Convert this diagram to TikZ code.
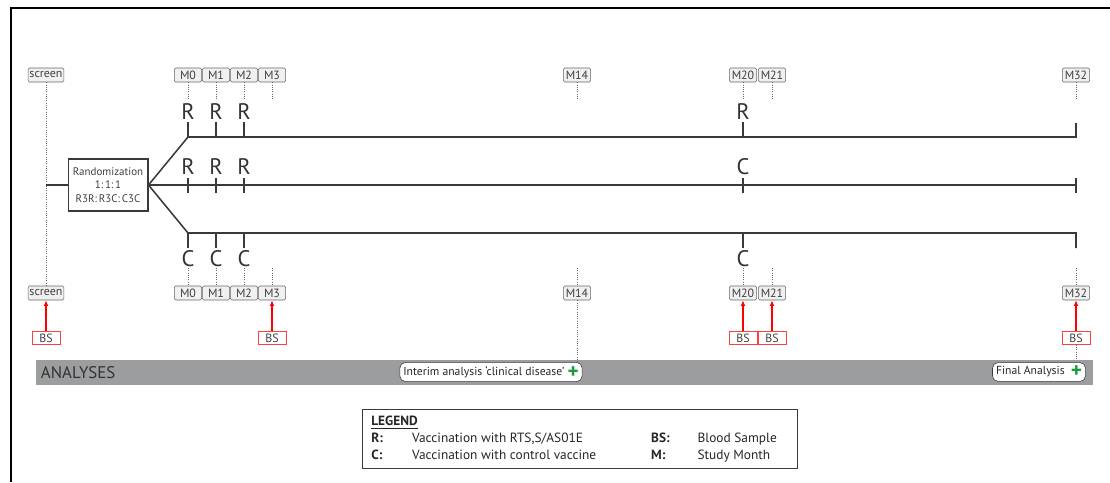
\documentclass[tikz,border=0pt]{standalone}
\usepackage{fontspec}
\setmainfont{PT Sans}
\usepackage{xcolor}
\usetikzlibrary{arrows.meta}
\definecolor{armgray}{HTML}{3A3A3A}
\definecolor{bargray}{HTML}{9C9D9E}
\definecolor{plusgreen}{HTML}{1E9A3C}
\tikzset{
  arm/.style={line width=1.1pt, armgray},
  stub/.style={densely dotted, gray!80!black, line width=0.6pt},
  monthbox/.style={draw=gray!80!black, fill=gray!12, rounded corners=1pt, minimum width=0.68cm,
    minimum height=0.35cm, inner sep=1pt, font=\fontsize{8.5}{9}\selectfont, text=black!75},
  bsbox/.style={draw=red!75, fill=white, minimum width=0.7cm, minimum height=0.33cm, inner sep=1pt,
    font=\fontsize{8.5}{9}\selectfont, text=black!75},
  dose/.style={font=\fontsize{16}{16}\selectfont, text=black!80, inner sep=0pt},
  bsarrow/.style={-{Latex[length=4pt,width=3.5pt]}, red, line width=0.8pt},
  anbox/.style={draw=armgray, fill=white, rounded corners=4pt, inner sep=2.5pt, minimum height=0.42cm,
    font=\fontsize{8.3}{9}\selectfont, text=black!85}
}
\newcommand{\greenplus}{\raisebox{-2.2pt}{\textcolor{plusgreen}{\fontsize{15}{15}\selectfont\bfseries +}}}
\begin{document}
\begin{tikzpicture}[x=0.025cm, y=-0.025cm]
\useasboundingbox (0,0) rectangle (1110,482);
% frame
\draw[line width=1.4pt] (1110,8) -- (11,8) -- (11,482);

% study months, top and bottom rows
\node[monthbox, minimum width=0pt] (scrT) at (46,75) {screen};
\node[monthbox, minimum width=0pt] (scrB) at (46,293) {screen};
\draw[stub] (scrT.south) -- (scrB.north);
\foreach \n/\x in {0/188,1/216,2/244,3/272,14/577,20/743,21/772,32/1076} {
  \node[monthbox] (mT\n) at (\x,75) {M\n};
  \node[monthbox] (mB\n) at (\x,293) {M\n};
  \coordinate (sT\n) at (\x,100);
  \coordinate (sB\n) at (\x,268);
  \draw[stub] (mT\n.south) -- (sT\n);
  \draw[stub] (sB\n) -- (mB\n.north);
}

% randomization and the three arms
\node[draw=armgray, line width=0.9pt, minimum width=1.925cm, minimum height=1.3cm, align=center,
  font=\fontsize{7.8}{9.5}\selectfont, text=black!75] (rand) at (108,185) {Randomization\\1:\,1:\,1\\R3R:\,R3C:\,C3C};
\draw[arm] (scrT.south |- rand.west) -- (rand.west);
\coordinate (topS) at (188,137);
\coordinate (topE) at (1076,137);
\coordinate (topEnd) at (1076,123);
\coordinate (midE) at (1076,185);
\coordinate (botS) at (188,233);
\coordinate (botE) at (1076,233);
\coordinate (botEnd) at (1076,248);
\draw[arm] (rand.east) -- (topS) -- (topE) -- (topEnd);
\draw[arm] (rand.east) -- (midE);
\draw[arm] (1076,178) -- (1076,193);
\draw[arm] (rand.east) -- (botS) -- (botE) -- (botEnd);

% doses
\foreach \i/\x/\a/\b/\c in {1/188/R/R/C,2/216/R/R/C,3/244/R/R/C,4/743/R/C/C} {
  \node[dose] (dT\i) at (\x,112) {\a};
  \node[dose] (dM\i) at (\x,167) {\b};
  \node[dose] (dB\i) at (\x,259) {\c};
  \draw[arm] (\x,122) -- (\x,137);
  \draw[arm] (\x,178) -- (\x,193);
  \draw[arm] (\x,233) -- (\x,248);
}

% blood samples
\foreach \n/\x in {scrB/46,mB3/272,mB20/743,mB21/772,mB32/1076} {
  \node[bsbox] (bs\n) at (\x,338) {BS};
  \draw[bsarrow] (bs\n.north) -- (\n.south);
}

% analyses
\node[fill=bargray, minimum width=26.4cm, minimum height=0.625cm, inner sep=0pt, anchor=north west] (bar) at (36,360) {};
\node[anchor=west, font=\fontsize{12}{12}\selectfont, text=black!80] (antext) at (36,373) {ANALYSES};
\node[anbox] (interim) at (491,372) {Interim analysis `clinical disease'~\greenplus};
\node[anbox] (final) at (1039,372) {Final Analysis~~\greenplus};
\draw[stub] (mB14.south) -- (mB14.south |- interim.north);
\draw[stub] (bsmB32.south) -- (bsmB32.south |- bar.north);

% legend
\node[draw=armgray, line width=0.9pt, anchor=north west, inner sep=0pt, minimum width=10.875cm, minimum height=1.475cm,
  text=black!85, font=\fontsize{9.5}{12}\selectfont] (legend) at (362,409) {%
  \begin{tabular}{@{\hspace{5pt}}p{17pt}p{158pt}p{21pt}p{70pt}@{}}
  \multicolumn{4}{@{\hspace{5pt}}l}{\textbf{\underline{LEGEND}}}\\
  \textbf{R:} & Vaccination with RTS,S/AS01E & \textbf{BS:} & Blood Sample\\
  \textbf{C:} & Vaccination with control vaccine & \textbf{M:} & Study Month
  \end{tabular}};
\end{tikzpicture}
\end{document}
